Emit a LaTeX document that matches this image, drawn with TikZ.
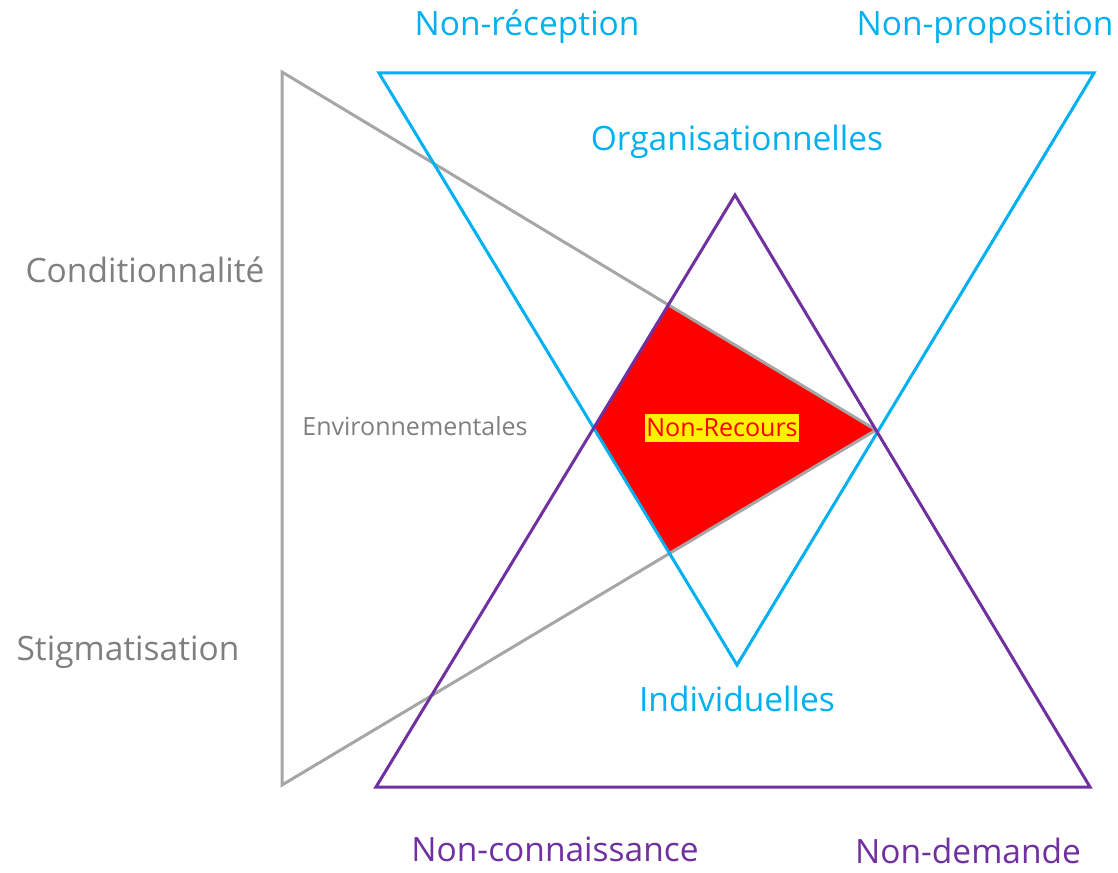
\documentclass[tikz,border=0pt]{standalone}
\usepackage{fontspec}
\setmainfont{Open Sans}
\definecolor{cblue}{HTML}{00B0F0}
\definecolor{cpurple}{HTML}{7030A0}
\definecolor{cgrayline}{HTML}{A6A6A6}
\definecolor{cgraytext}{HTML}{7F7F7F}
\begin{document}
\begin{tikzpicture}[x=1pt,y=-1pt,
  edge/.style={line width=3pt,line join=miter},
  bigfont/.style={font=\fontsize{33.5}{38}\selectfont,inner sep=0pt},
  bluelabel/.style={bigfont,text=cblue},
  purplelabel/.style={bigfont,text=cpurple},
  graylabel/.style={bigfont,text=cgraytext},
  smallgray/.style={text=cgraytext,font=\fontsize{25}{29}\selectfont,inner sep=0pt}]
\useasboundingbox (0,0) rectangle (1118,872);
% corners of the three triangles
\coordinate (gT) at (282,72);
\coordinate (gB) at (282,785);
\coordinate (gA) at (876,430);
\coordinate (bL) at (379,73);
\coordinate (bR) at (1094,73);
\coordinate (bA) at (737,665);
\coordinate (pA) at (735,195);
\coordinate (pL) at (376,787);
\coordinate (pR) at (1090,787);
% the common region
\coordinate (r1) at (intersection of gT--gA and pA--pL);
\coordinate (r2) at (intersection of bL--bA and pA--pL);
\coordinate (r3) at (intersection of gB--gA and bL--bA);
\fill[red] (r1) -- (r2) -- (r3) -- (gA) -- cycle;
% triangles
\draw[edge,cgrayline] (gT) -- (gA) -- (gB) -- cycle;
\draw[edge,cblue] (bL) -- (bR) -- (bA) -- cycle;
\draw[edge,cpurple] (pA) -- (pR) -- (pL) -- cycle;
% labels
\node[bluelabel] (nrec) at (527,27) {Non-réception};
\node[bluelabel] (nprop) at (985,27) {Non-proposition};
\node[bluelabel] (orga) at (737,142) {Organisationnelles};
\node[bluelabel] (indiv) at (737,699) {Individuelles};
\node[graylabel] (cond) at (145,270) {Conditionnalité};
\node[graylabel] (stig) at (128,652) {Stigmatisation};
\node[smallgray] (env) at (415,426) {Environnementales};
\node[purplelabel] (ncon) at (555,849) {Non-connaissance};
\node[purplelabel] (ndem) at (968,851) {Non-demande};
\node[fill=yellow,text=red,font=\fontsize{25}{29}\selectfont,inner xsep=1pt,inner ysep=5pt] (nr) at (722,428) {Non-Recours};
\end{tikzpicture}
\end{document}
